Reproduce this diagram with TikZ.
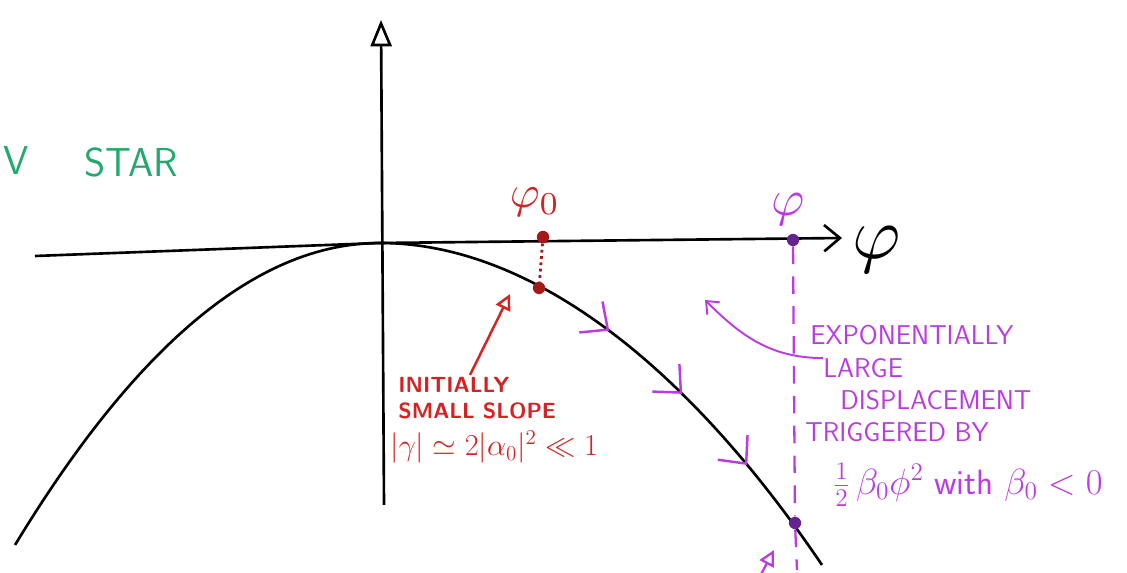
\documentclass[tikz,border=0pt]{standalone}
\usepackage{graphicx}
\usetikzlibrary{arrows.meta,decorations.markings}
\definecolor{inkred}{RGB}{214,34,34}
\definecolor{dotred}{RGB}{165,25,25}
\definecolor{inkpurple}{RGB}{188,58,228}
\definecolor{dotpurple}{RGB}{100,35,145}
\definecolor{inkgreen}{RGB}{34,170,110}

\begin{document}
\begin{tikzpicture}[x=0.02cm, y=-0.02cm,
  axis/.style={line width=1.5pt, black},
  dot/.style={circle, fill, inner sep=0pt, minimum size=7pt},
  flowtip/.style={inkpurple, line width=1.4pt},
  redtext/.style={inkred, font=\sffamily\bfseries\fontsize{12.5}{15}\selectfont, anchor=west, inner sep=0pt},
  purpletext/.style={inkpurple, font=\sffamily\fontsize{15.5}{17}\selectfont, anchor=west, inner sep=0pt}]
\clip (0,0) rectangle (1127,573);

% axes
\coordinate (O) at (380,243);
\coordinate (ytop) at (381,20);
\coordinate (ybot) at (384,505);
\coordinate (xleft) at (35,256);
\coordinate (xright) at (842,238);
\draw[axis, -{Triangle[open, length=15pt, width=12pt]}] (ybot) -- (ytop);
\draw[axis, -{Straight Barb[length=9pt, width=15pt]}] (xleft) -- (O) -- (xright);
\node (phi) at (877,250) {\scalebox{4.2}{$\varphi$}};

% potential
\draw[axis] (15,545) .. controls (137,344) and (258,243) .. (O);
\draw[axis, postaction={decorate}, decoration={markings,
  mark=at position 0.44 with {\arrow[flowtip]{Straight Barb[length=12pt, width=22pt]}},
  mark=at position 0.61 with {\arrow[flowtip]{Straight Barb[length=12pt, width=22pt]}},
  mark=at position 0.78 with {\arrow[flowtip]{Straight Barb[length=12pt, width=22pt]}}}]
  (O) .. controls (522,243) and (678,352) .. (822,565);

% initial point
\node[dot, dotred] (P0) at (543,237) {};
\node[dot, dotred] (Q0) at (539,288) {};
\draw[dotred, dotted, line width=1.6pt] (P0) -- (Q0);
\node[inkred] (phi0) at (535,202) {\scalebox{2.6}{$\varphi_0$}};

% final point
\node[dot, dotpurple] (P) at (793,240) {};
\node[dot, dotpurple] (Q) at (795,523) {};
\coordinate (Pend) at (797,570);
\draw[inkpurple, line width=1.3pt, dash pattern=on 10pt off 7pt] (P) -- (Q) -- (Pend);
\node[inkpurple] (phiend) at (788,209) {\scalebox{2.9}{$\varphi$}};

% red remark
\node[redtext] (init) at (398,385) {INITIALLY};
\node[redtext] (slope) at (398,411) {SMALL SLOPE};
\node[redtext, font=\fontsize{18}{20}\selectfont] (gamma) at (390,447) {$|\gamma|\simeq 2|\alpha_0|^2\ll 1$};
\coordinate (redstart) at (470,375);
\coordinate (redtip) at (510,294);
\draw[inkred, line width=1.4pt, -{Triangle[open, length=9pt, width=9pt]}] (redstart) -- (redtip);

% purple remark
\node[purpletext] (expo) at (810,335) {EXPONENTIALLY};
\node[purpletext] (large) at (823,368) {LARGE};
\node[purpletext] (displ) at (840,400) {DISPLACEMENT};
\node[purpletext] (trig) at (805,432) {TRIGGERED BY};
\node[purpletext, font=\fontsize{20}{22}\selectfont] (beta) at (833,485) {$\frac{1}{2}\,\beta_0\phi^2$ \textsf{with} $\beta_0<0$};
\coordinate (purpletip) at (705,300);
\draw[inkpurple, line width=1.1pt, -{Straight Barb[length=6pt, width=10pt]}] (large.north west) .. controls (770,358) and (740,335) .. (purpletip);
\coordinate (lowstart) at (750,595);
\coordinate (lowtip) at (774,550);
\draw[inkpurple, line width=1.3pt, -{Triangle[open, length=9pt, width=9pt]}] (lowstart) -- (lowtip);

% title
\node[inkgreen, font=\sffamily\fontsize{23}{25}\selectfont, anchor=west, inner sep=1pt] (v) at (1,160) {V};
\node[inkgreen, font=\sffamily\fontsize{23}{25}\selectfont] (star) at (131,162) {STAR};
\end{tikzpicture}
\end{document}
